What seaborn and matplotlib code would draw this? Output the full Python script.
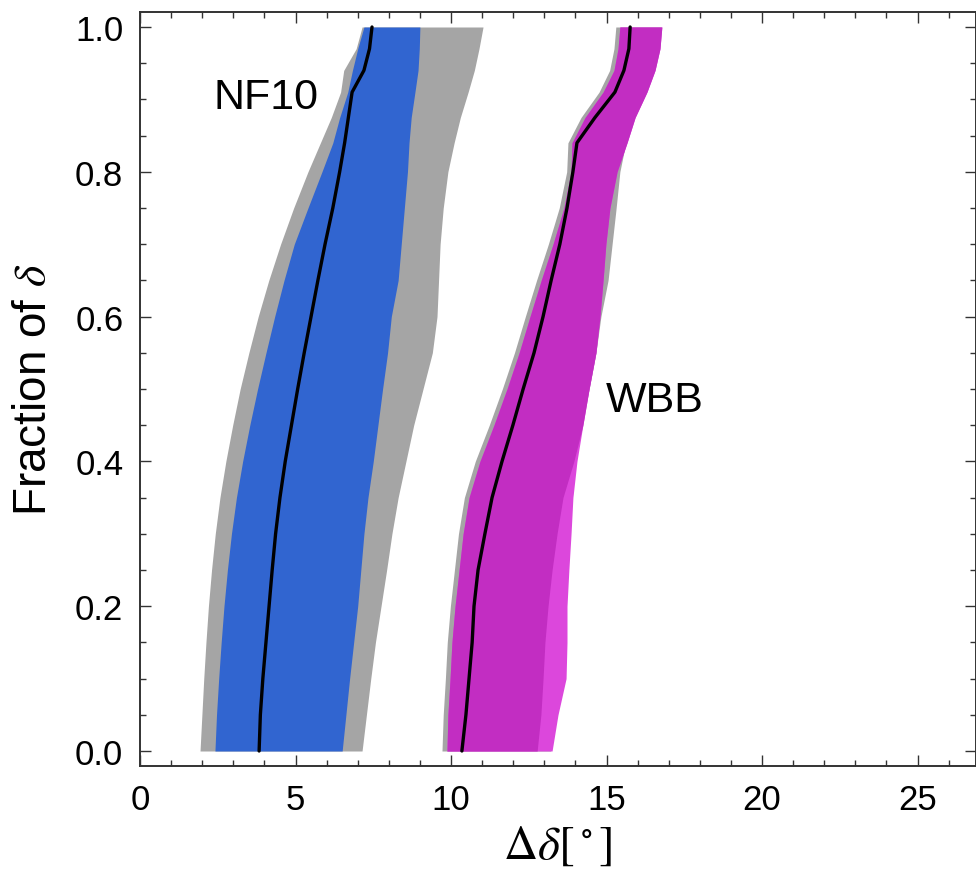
import numpy as np
import pandas as pd
import matplotlib
matplotlib.use("Agg")
import matplotlib.pyplot as plt
from matplotlib.ticker import MultipleLocator
import seaborn as sns

# ---------------- data ----------------
frac = [0, 0.05, 0.1, 0.15, 0.2, 0.25, 0.3, 0.35, 0.4, 0.45, 0.5, 0.55, 0.6,
        0.65, 0.7, 0.75, 0.8, 0.84, 0.875, 0.91, 0.94, 0.97, 1.0]

# NF10
nf10_gray_lo = [1.93, 1.99, 2.05, 2.12, 2.2, 2.3, 2.42, 2.57, 2.76, 2.98, 3.22, 3.5, 3.8,
                4.14, 4.52, 4.94, 5.4, 5.8, 6.15, 6.45, 6.55, 6.95, 7.14]
nf10_blue_lo = [2.41, 2.46, 2.53, 2.61, 2.7, 2.81, 2.94, 3.1, 3.3, 3.53, 3.78, 4.05, 4.33,
                4.63, 4.96, 5.4, 5.85, 6.2, 6.42, 6.68, 6.83, 7.0, 7.2]
nf10_median = [3.83, 3.87, 3.95, 4.05, 4.15, 4.25, 4.36, 4.5, 4.67, 4.87, 5.07, 5.28, 5.5,
               5.72, 5.95, 6.2, 6.42, 6.58, 6.7, 6.82, 7.2, 7.38, 7.46]
nf10_blue_hi = [6.5, 6.62, 6.74, 6.87, 7.0, 7.1, 7.2, 7.33, 7.5, 7.65, 7.8, 7.96, 8.08,
                8.3, 8.4, 8.5, 8.6, 8.65, 8.72, 8.84, 8.94, 8.98, 9.0]
nf10_gray_hi = [7.14, 7.28, 7.42, 7.57, 7.75, 7.93, 8.1, 8.3, 8.55, 8.8, 9.1, 9.4, 9.55,
                9.6, 9.65, 9.75, 9.9, 10.1, 10.3, 10.55, 10.75, 10.9, 11.03]

# WBB
wbb_gray_lo = [9.71, 9.75, 9.82, 9.88, 9.98, 10.11, 10.24, 10.43, 10.78, 11.23, 11.65, 12.04,
               12.39, 12.75, 13.13, 13.48, 13.72, 13.76, 14.18, 14.76, 15.1, 15.24, 15.3]
wbb_mag_lo = [9.87, 9.9, 9.97, 10.03, 10.13, 10.26, 10.39, 10.58, 10.93, 11.38, 11.8, 12.19,
              12.54, 12.9, 13.28, 13.63, 13.86, 13.89, 14.31, 14.89, 15.24, 15.37, 15.43]
wbb_median = [10.35, 10.48, 10.58, 10.68, 10.74, 10.87, 11.09, 11.32, 11.64, 11.99, 12.32, 12.67,
              12.96, 13.22, 13.5, 13.73, 13.92, 14.05, 14.63, 15.27, 15.56, 15.72, 15.76]
wbb_mag_hi = [12.77, 12.89, 12.96, 13.02, 13.12, 13.25, 13.41, 13.6, 13.95, 14.24, 14.44, 14.66,
              14.79, 14.89, 14.98, 15.11, 15.34, 15.66, 15.92, 16.3, 16.56, 16.72, 16.78]
wbb_light_hi = [13.25, 13.44, 13.7, 13.73, 13.73, 13.79, 13.86, 13.92, 14.05, 14.24, 14.44, 14.66,
                14.79, 14.89, 14.98, 15.11, 15.34, 15.66, 15.92, 16.3, 16.56, 16.72, 16.78]
wbb_gray_hi = [13.2, 13.4, 13.65, 13.7, 13.7, 13.75, 13.8, 13.9, 14.0, 14.2, 14.44, 14.66,
               14.82, 15.05, 15.18, 15.31, 15.43, 15.62, 15.9, 16.28, 16.54, 16.7, 16.76]

labels = {"NF10": (4.04, 0.903), "WBB": (16.56, 0.485)}
xticks = [0, 5, 10, 15, 20, 25]
yticks = [0.0, 0.2, 0.4, 0.6, 0.8, 1.0]

# ---------------- styling ----------------
sns.set_theme(style="ticks")
plt.rcParams["font.family"] = ["Liberation Sans", "DejaVu Sans"]
plt.rcParams["mathtext.fontset"] = "stix"

GRAY = "#a5a5a5"
BLUE = "#3165d0"
MAG = "#c22dc2"
MAG_LIGHT = "#dc47dc"

fig = plt.figure(figsize=(9.76, 8.78), dpi=100)
ax = fig.add_axes([140 / 976, 111 / 878, 836 / 976, 754 / 878])

df = pd.DataFrame({"frac": frac, "NF10": nf10_median, "WBB": wbb_median})

# NF10 bands
ax.fill_betweenx(frac, nf10_gray_lo, nf10_gray_hi, color=GRAY, lw=0)
ax.fill_betweenx(frac, nf10_blue_lo, nf10_blue_hi, color=BLUE, lw=0)
# WBB bands
ax.fill_betweenx(frac, wbb_gray_lo, wbb_gray_hi, color=GRAY, lw=0)
ax.fill_betweenx(frac, wbb_mag_lo, wbb_light_hi, color=MAG_LIGHT, lw=0)
ax.fill_betweenx(frac, wbb_mag_lo, wbb_mag_hi, color=MAG, lw=0)

for name in ["NF10", "WBB"]:
    sns.lineplot(data=df, x=name, y="frac", sort=False, orient="y",
                 color="black", lw=2.4, ax=ax, estimator=None)

for name, (x, y) in labels.items():
    ax.text(x, y, name, fontsize=31, ha="center", va="center", color="black")

ax.set_xlim(0, 836 / 31.1)
ax.set_ylim(-15 / 724, 1 + 15 / 724)
ax.set_xticks(xticks)
ax.set_xticklabels([str(t) for t in xticks])
ax.set_yticks(yticks)
ax.set_yticklabels([f"{t:.1f}" for t in yticks])
ax.xaxis.set_minor_locator(MultipleLocator(1))
ax.yaxis.set_minor_locator(MultipleLocator(0.05))

ax.tick_params(which="both", direction="in", top=True, right=True,
               color="#333333", width=1.0, labelcolor="black")
ax.tick_params(which="major", length=8, labelsize=25, pad=12)
ax.tick_params(which="minor", length=4)
for s in ax.spines.values():
    s.set_color("#333333")
    s.set_linewidth(1.4)

ax.set_xlabel(r"$\Delta\delta[^\circ]$", fontsize=34, labelpad=6, color="black")
ax.set_ylabel(r"Fraction of $\delta$", fontsize=33, labelpad=14, color="black")

fig.savefig("out.png", dpi=100)
